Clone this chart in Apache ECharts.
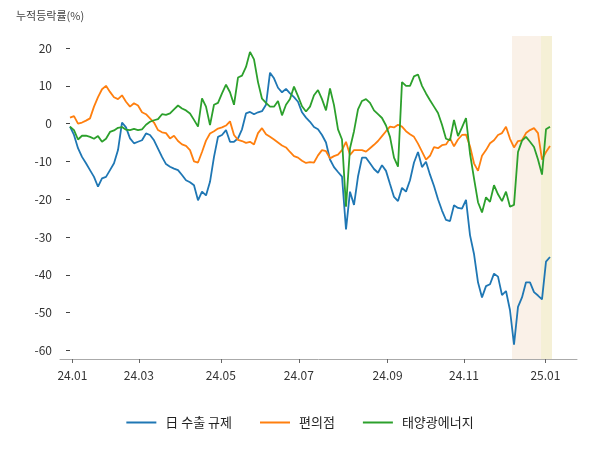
<!DOCTYPE html>
<html>
<head>
<meta charset="utf-8">
<script src="https://cdn.jsdelivr.net/npm/echarts@6.0.0/dist/echarts.min.js"></script>
<style>
  html, body { margin: 0; padding: 0; background: #fff; }
  #chart { width: 600px; height: 450px; }
</style>
</head>
<body>
<div id="chart"></div>
<script>
// x is the sample index (about two trading days per step), ticks placed by hand
const tickIdx = [0.6, 17.2, 37.7, 57.2, 79.4, 98.5, 118.85]
const tickLabels = ['24.01', '24.03', '24.05', '24.07', '24.09', '24.11', '25.01']
const yTicks = [-60, -50, -40, -30, -20, -10, 0, 10, 20]

const seriesNames = ['日 수출 규제', '편의점', '태양광에너지']

const exportBan = [
  -0.8, -3, -6.5, -8.8, -10.5, -12.3, -14.1, -16.7, -14.5, -14.1,
  -12.3, -10.5, -7, 0.3, -1, -3.9, -5.2, -4.8, -4.4, -2.6,
  -3, -4.4, -6.6, -8.8, -10.7, -11.4, -11.9, -12.3, -13.6, -15,
  -15.5, -16.3, -20.3, -18, -19, -15.4, -8.8, -3.5, -3, -1.7,
  -4.8, -4.8, -3.9, -1.5, 2.7, 3.1, 2.5, 3, 3.3, 5,
  13.5, 12, 9.5, 8.3, 9.2, 8, 7, 5.8, 3, 1.6,
  0.5, -0.9, -1.5, -3, -5, -9.5, -11.5, -12.8, -14, -28,
  -18, -21.5, -14, -9, -9, -10.5, -12, -13, -11, -12.5,
  -16, -19.4, -20.5, -17, -18, -15, -10.3, -7.5, -11.5, -10.1,
  -13.5, -16.5, -20, -23, -25.5, -25.8, -21.6, -22.3, -22.5, -20.2,
  -29.5, -34.5, -42, -46, -43, -42.5, -39.7, -40.5, -45.4, -44.3,
  -49.4, -58.5, -48.5, -46, -42, -42, -44.6, -45.5, -46.5, -36.5,
  -35.3
]
const convStore = [
  1.6, 2.0, 0, 0.3, 0.8, 1.4, 4.5, 7, 9.1, 10,
  8.4, 7, 6.5, 7.5, 5.8, 4.5, 5.4, 4.8, 3, 2.5,
  1.4, 0.3, -1.7, -2.3, -2.5, -3.9, -3.2, -4.6, -5.5, -5.9,
  -7, -10, -10.3, -7.5, -4.5, -2.6, -2, -1.3, -1, -0.5,
  0.6, -3, -4.3, -4.6, -5.1, -4.8, -5.5, -2.5, -1.2, -2.8,
  -3.5, -4.2, -5, -5.8, -6.3, -7.5, -8.6, -9, -9.8, -10.4,
  -10.2, -10.3, -8.4, -7, -7.3, -9.2, -8.6, -8.2, -7, -4.8,
  -8.3, -7, -7, -7, -7.4, -6.5, -5.6, -4.6, -3.3, -2,
  -0.8, -1, -0.3, -0.8, -2, -2.8, -3.5, -5.3, -7.4, -9.5,
  -8.5, -6.2, -6.5, -5.7, -5.5, -3.9, -6, -4.2, -3, -2.9,
  -6, -10.5, -12.5, -8.5, -7, -5.2, -4.4, -3, -2.5, -0.8,
  -4, -6.3, -4.6, -4.4, -2.5, -1.7, -1.2, -2.5, -9.5, -7.5,
  -5.9
]
const solar = [
  -0.8, -1.7, -4.2, -3.2, -3.2, -3.5, -4, -3.3, -4.8, -4,
  -2.2, -1.8, -1.1, -0.9, -1.6, -1.7, -1.4, -1.7, -1.5, -0.3,
  0.5, 0.9, 1.2, 2.5, 2.3, 2.7, 3.8, 4.8, 4, 3.5,
  2.7, 1, -0.8, 6.7, 4.5, -0.4, 5, 5.5, 8, 10.3,
  8.3, 5, 12.2, 12.7, 15, 19, 17, 11, 6.6, 5.5,
  4.5, 4.5, 6, 2.2, 5, 6.5, 9.8, 7.3, 4.6, 3.2,
  4.5, 7.5, 8.9, 6.5, 3.5, 9.3, 4.9, -1.5, -4.2, -22,
  -6.5, -2, 3.8, 6, 6.5, 5.5, 3.5, 2.5, 1.5, -0.5,
  -3.5, -9, -11.4, 11, 10, 10, 12.5, 13, 10, 8,
  6.2, 4.5, 2.8, -0.3, -4, -4.4, 1, -3.3, -1, 1.5,
  -7.9, -14.5, -20.8, -23.5, -19.5, -20.7, -16.3, -18.7, -20.5, -18,
  -22, -21.5, -7.5, -4.5, -3.5, -4.8, -6.2, -9.5, -13.5, -1.5,
  -0.8
]

// shaded spans, in sample index
const spanA = [110.5, 117.75]
const spanB = [117.75, 120.5]

const colors = ['#1f77b4', '#ff7f0e', '#2ca02c']
const font = '"Noto Sans CJK KR", "Noto Sans", sans-serif'

function toPairs (arr) {
  return arr.map((v, i) => [i, v])
}

function init () {
  const myChart = echarts.init(document.getElementById('chart'), null, { renderer: 'canvas' })
  const lines = [exportBan, convStore, solar].map((arr, k) => ({
    name: seriesNames[k],
    type: 'line',
    data: toPairs(arr),
    showSymbol: false,
    z: 3,
    lineStyle: { width: 1.8, color: colors[k] },
    itemStyle: { color: colors[k] }
  }))
  myChart.setOption({
    animation: false,
    textStyle: { fontFamily: font },
    color: colors,
    title: {
      text: '누적등락률(%)',
      left: 11,
      top: 5,
      textStyle: { fontSize: 11, fontWeight: 'normal', color: '#444', fontFamily: font }
    },
    legend: {
      data: seriesNames,
      left: 'center',
      top: 411,
      icon: 'rect',
      itemWidth: 30,
      itemHeight: 2,
      itemGap: 28,
      textStyle: { fontSize: 13, color: '#222', fontFamily: font, padding: [0, 0, 0, 4] }
    },
    grid: {
      left: 60,
      right: 23,
      top: 36,
      bottom: 91
    },
    xAxis: {
      type: 'value',
      min: -2.5,
      max: 126.75,
      splitLine: { show: false },
      axisLine: { show: true, onZero: false, lineStyle: { color: '#aaa', width: 1 } },
      axisTick: { show: true, length: 4, customValues: tickIdx, lineStyle: { color: '#666' } },
      axisLabel: {
        customValues: tickIdx,
        margin: 10,
        fontSize: 12,
        color: '#333',
        fontFamily: font,
        formatter: v => tickLabels[tickIdx.indexOf(v)] || ''
      }
    },
    yAxis: {
      type: 'value',
      min: -62.3,
      max: 23.2,
      splitLine: { show: false },
      axisLine: { show: false },
      axisTick: { show: true, length: 4, customValues: yTicks, lineStyle: { color: '#444' } },
      axisLabel: {
        customValues: yTicks,
        margin: 8,
        fontSize: 12,
        color: '#333',
        fontFamily: font
      }
    },
    series: [
      {
        name: 'span',
        type: 'line',
        data: [],
        z: 1,
        silent: true,
        markArea: {
          silent: true,
          data: [
            [{ xAxis: spanA[0], itemStyle: { color: '#faf1e8' } }, { xAxis: spanA[1] }],
            [{ xAxis: spanB[0], itemStyle: { color: '#f5f0d6' } }, { xAxis: spanB[1] }]
          ]
        }
      }
    ].concat(lines)
  })
  window.addEventListener('resize', function () {
    myChart.resize()
  })
}

init()
</script>
</body>
</html>
